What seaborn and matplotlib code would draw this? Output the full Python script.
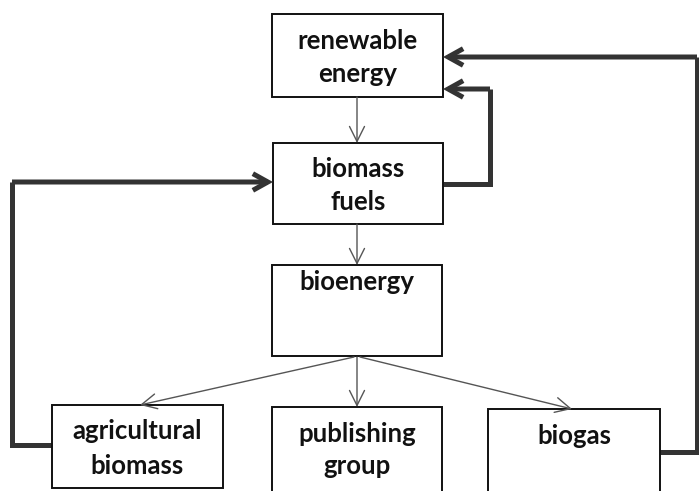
import matplotlib
matplotlib.use('Agg')
import matplotlib.pyplot as plt
from matplotlib.patches import Rectangle
import pandas as pd
import seaborn as sns

# -------------------------
# Diagram content
# -------------------------
box_names = ["renewable", "biomass", "bioenergy", "agricultural", "publishing", "biogas"]
box_lines = [
    ["renewable", "energy"],
    ["biomass", "fuels"],
    ["bioenergy"],
    ["agricultural", "biomass"],
    ["publishing", "group"],
    ["biogas"],
]
# thin flow arrows: (from, to)
thin_links = [
    ("renewable", "biomass"),
    ("biomass", "bioenergy"),
    ("bioenergy", "agricultural"),
    ("bioenergy", "publishing"),
    ("bioenergy", "biogas"),
]
# thick feedback arrows: (from, to)
feedback_links = [
    ("agricultural", "biomass"),
    ("biomass", "renewable"),
    ("biogas", "renewable"),
]

# -------------------------
# Layout (pixel coordinates, y downwards)
# -------------------------
box_rect = {
    "renewable": (272, 14, 443, 97),
    "biomass": (273, 143, 443, 224),
    "bioenergy": (272, 265, 442, 356),
    "agricultural": (52, 405, 223, 488),
    "publishing": (272, 407, 442, 492),
    "biogas": (488, 409, 660, 492),
}
text_y = {
    "renewable": [41, 74],
    "biomass": [169, 202],
    "bioenergy": [282],
    "agricultural": [431, 466],
    "publishing": [434, 466],
    "biogas": [436],
}
thin_ends = {
    ("renewable", "biomass"): ((357, 97), (357, 143)),
    ("biomass", "bioenergy"): ((357, 224), (357, 265)),
    ("bioenergy", "agricultural"): ((354, 357), (140, 405)),
    ("bioenergy", "publishing"): ((357, 357), (357, 407)),
    ("bioenergy", "biogas"): ((360, 357), (572, 409)),
}
feedback_paths = {
    ("agricultural", "biomass"): [(52, 445), (12, 445), (12, 182), (273, 182)],
    ("biomass", "renewable"): [(443, 184), (490, 184), (490, 89), (443, 89)],
    ("biogas", "renewable"): [(660, 452), (697, 452), (697, 57), (443, 57)],
}

sns.set_theme(style="white")
plt.rcParams['font.family'] = ['Lato', 'DejaVu Sans']

fig = plt.figure(figsize=(6.99, 4.91), dpi=100)
ax = fig.add_axes([0, 0, 1, 1])

# boxes and labels
for name, lines in zip(box_names, box_lines):
    x0, y0, x1, y1 = box_rect[name]
    ax.add_patch(Rectangle((x0, y0), x1 - x0, y1 - y0, fill=False,
                           edgecolor='#111111', linewidth=1.4, zorder=3))
    cx = (x0 + x1) / 2
    for line, ty in zip(lines, text_y[name]):
        ax.text(cx, ty, line, ha='center', va='center', fontsize=18.5,
                fontweight='bold', color='#111111', zorder=4)

# thin arrows
for link in thin_links:
    (sx, sy), (ex, ey) = thin_ends[link]
    ax.annotate("", xy=(ex, ey), xytext=(sx, sy),
                arrowprops=dict(arrowstyle="->,head_length=0.9,head_width=0.45",
                                color='#555555', lw=1.0, shrinkA=0, shrinkB=0))

# thick feedback connectors
for link in feedback_links:
    pts = feedback_paths[link]
    df = pd.DataFrame(pts[:-1], columns=["x", "y"])
    sns.lineplot(data=df, x="x", y="y", sort=False, estimator=None, ax=ax,
                 color='#333333', linewidth=3.6, solid_joinstyle='miter',
                 solid_capstyle='butt')
    ax.annotate("", xy=pts[-1], xytext=pts[-2],
                arrowprops=dict(arrowstyle="->,head_length=0.9,head_width=0.5",
                                color='#333333', lw=3.6, shrinkA=0, shrinkB=0,
                                joinstyle='miter', capstyle='butt'))

ax.set_xlim(0, 699)
ax.set_ylim(491, 0)
ax.axis('off')
fig.savefig("out.png", dpi=100)
